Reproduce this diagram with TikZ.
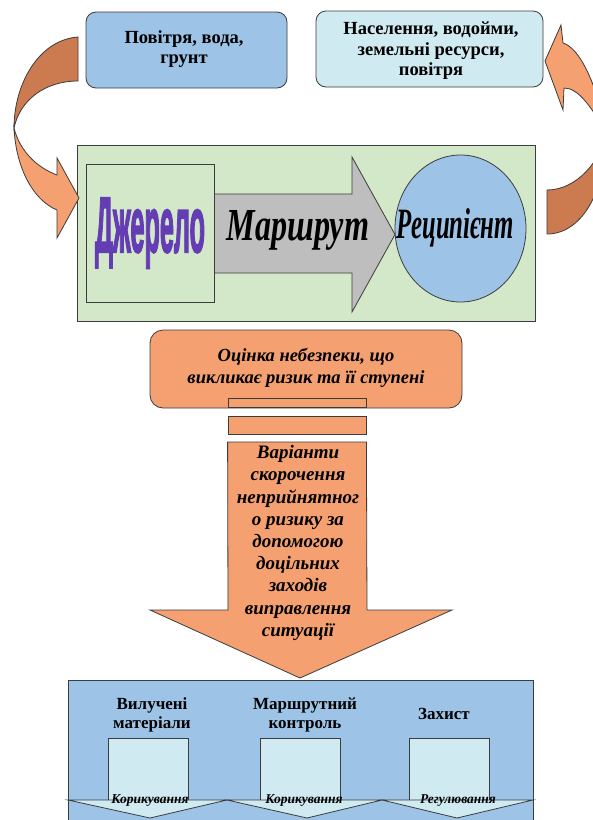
\documentclass[tikz,border=0pt]{standalone}
\usepackage{fontspec}
\setmainfont{Liberation Serif}
\newfontfamily\tnr{Liberation Serif}
\newfontfamily\heavy{Liberation Sans}[BoldFeatures={FakeBold=3}]
\usepackage{graphicx}
\usetikzlibrary{shapes.geometric}
\definecolor{edge}{RGB}{60,60,60}
\definecolor{lblue}{RGB}{157,195,230}
\definecolor{lcyan}{RGB}{208,234,242}
\definecolor{lgreen}{RGB}{210,232,200}
\definecolor{agray}{RGB}{190,190,190}
\definecolor{orng}{RGB}{245,160,112}
\definecolor{dorng}{RGB}{204,122,80}
\definecolor{purp}{RGB}{100,60,180}
\newcommand{\topfnt}{\tnr\fontsize{18.5}{20.5}\selectfont\bfseries}
\newcommand{\botfnt}{\tnr\fontsize{17}{18.5}\selectfont\bfseries}
\newcommand{\bifnt}{\tnr\fontsize{18.5}{21.5}\selectfont\bfseries\itshape}
\newcommand{\arrfnt}{\tnr\fontsize{19}{22.2}\selectfont\bfseries\itshape}
\newcommand{\smlfnt}{\tnr\fontsize{13.5}{15}\selectfont\bfseries\itshape}
\begin{document}
\begin{tikzpicture}[x=1pt,y=-1pt,
  shp/.style={draw=edge,line width=0.8pt},
  rbox/.style={shp,rounded corners=10pt,inner sep=0pt},
  sbox/.style={shp,inner sep=0pt},
  lbl/.style={inner sep=0pt,align=center}]
\useasboundingbox (0,0) rectangle (593,820);
\fill[white] (0,0) rectangle (593,820);

% top boxes
\node[rbox,fill=lblue,minimum width=201pt,minimum height=76pt] (air) at (186.5,50) {};
\node[lbl,font=\topfnt] (airt) at (184,49) {Повітря, вода,\\грунт};
\node[rbox,fill=lcyan,minimum width=227pt,minimum height=76pt] (pop) at (429.5,49) {};
\node[lbl,font=\topfnt] (popt) at (431,51) {Населення, водойми,\\земельні ресурси,\\повітря};

% green frame
\node[sbox,fill=lgreen,minimum width=458pt,minimum height=176pt] (frame) at (306,233) {};
\node[sbox,minimum width=128pt,minimum height=138pt] (src) at (150,233) {};
\path[shp,fill=agray] (src.east |- 0,194) -- (352,194) -- (352,157) -- (395,234.5) -- (352,312) -- (352,273) -- (src.east |- 0,273) -- cycle;
\node[shp,ellipse,fill=lblue,minimum width=131pt,minimum height=147pt,inner sep=0pt] (rec) at (460.5,228.5) {};
\node[inner sep=0pt,anchor=base,text=purp] (srct) at (150,252) {\resizebox{110pt}{54pt}{\heavy\bfseries Джерело}};
\node[inner sep=0pt,anchor=base] (routet) at (298,240) {\resizebox{142pt}{30pt}{\tnr\bfseries\itshape Маршрут}};
\node[inner sep=0pt,anchor=base] (rect) at (455.5,238) {\resizebox{117pt}{30pt}{\tnr\bfseries\itshape Реципієнт}};

% curved arrows
\path[shp,fill=dorng] (78,37) .. controls (38,40) and (14,85) .. (14,128) .. controls (20,100) and (45,81) .. (78,81) -- cycle;
\path[shp,fill=orng] (14,128) .. controls (16,168) and (33,200) .. (57,210) -- (57,238) -- (79,198) -- (57,158) -- (57,175) .. controls (38,168) and (20,152) .. (14,128) -- cycle;
\path[shp,fill=orng] (561,25) -- (545,61) -- (563,110) -- (564,88) .. controls (578,88) and (590,105) .. (606,132) .. controls (597,85) and (580,48) .. (563,43) -- cycle;
\path[shp,fill=dorng] (606,132) .. controls (602,160) and (577,190) .. (547,190) -- (547,234) .. controls (580,234) and (606,195) .. (606,132) -- cycle;

% assessment
\node[rbox,rounded corners=13pt,fill=orng,minimum width=312pt,minimum height=78pt] (risk) at (306,369) {};
\node[lbl,font=\bifnt] (riskt) at (306,368) {Оцінка небезпеки, що\\викликає ризик та її ступені};
\node[sbox,fill=orng,minimum width=138pt,minimum height=9pt] (bar1) at (297,402.5) {};
\node[sbox,fill=orng,minimum width=138pt,minimum height=18pt] (bar2) at (297,425) {};

% bottom panel
\node[sbox,fill=lblue,minimum width=465pt,minimum height=160pt] (panel) at (300.5,760) {};
\foreach \n/\x in {s1/148.5,s2/300.5,s3/449}{
  \node[sbox,fill=lcyan,minimum width=80pt,minimum height=62pt] (\n) at (\x,769) {};
}
\foreach \a/\m/\b in {68/150/227,227/307/382,382/457/533}{
  \path[shp,fill=lcyan] (\a,800) -- (\b,800) -- (\m,818) -- cycle;
}
\node[lbl,font=\botfnt] (h1) at (152,715) {Вилучені\\матеріали};
\node[lbl,font=\botfnt] (h2) at (305,715) {Маршрутний\\контроль};
\node[lbl,font=\botfnt] (h3) at (444,714) {Захист};
\node[inner sep=0pt,anchor=base,font=\smlfnt] (c1) at (150,803) {Корикування};
\node[inner sep=0pt,anchor=base,font=\smlfnt] (c2) at (304,803) {Корикування};
\node[inner sep=0pt,anchor=base,font=\smlfnt] (c3) at (458,803) {Регулювання};

% down arrow
\path[shp,fill=orng] (bar2.south west |- 0,442) -- (bar2.south east |- 0,442) -- (367,610) -- (452,610) -- (300,678) -- (150,610) -- (228,610) -- cycle;
\node[lbl,font=\arrfnt] (optt) at (298,543) {Варіанти\\скорочення\\неприйнятног\\о ризику за\\допомогою\\доцільних\\заходів\\виправлення\\ситуації};
\end{tikzpicture}
\end{document}
